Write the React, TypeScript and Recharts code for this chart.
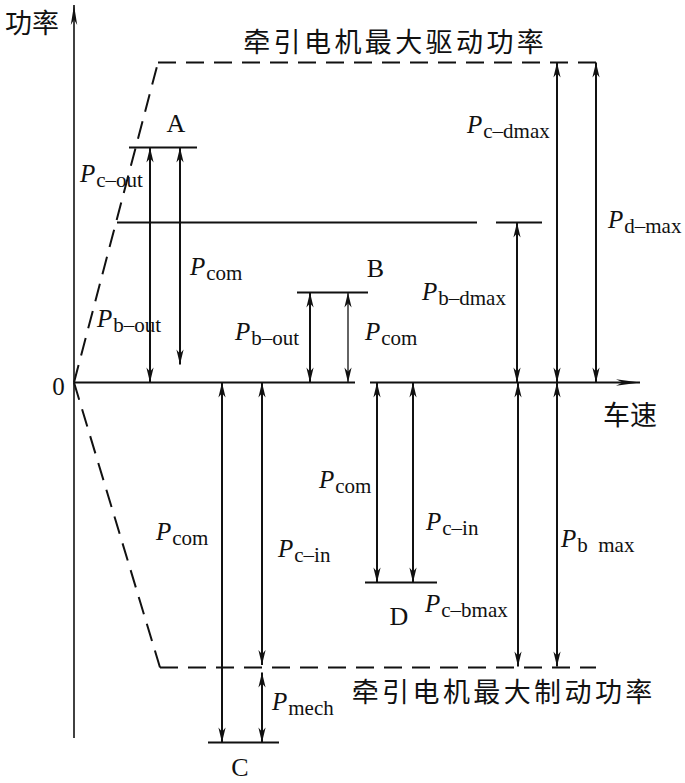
import React from 'react';
import { ComposedChart, XAxis, YAxis, ReferenceLine, ReferenceDot } from 'recharts';

// ---------- data (speed units on x, power units on y) ----------
const X_DOMAIN: [number, number] = [-14.8, 122.2];
const Y_DOMAIN: [number, number] = [-80.1, 76.5];

// axes
const speedAxisSegments = [
  { x1: 0, x2: 56.2 },
  { x1: 59.2, x2: 113.2 },
];
const powerAxis = { y1: -71.1, y2: 75.5 };

// motor envelopes (dashed)
const driveEnvelope = [
  { x: 0, y: 0 },
  { x: 16.8, y: 64 },
  { x: 104.4, y: 64 },
];
const brakeEnvelope = [
  { x: 0, y: 0 },
  { x: 17.2, y: -57 },
  { x: 104.4, y: -57 },
];

// battery max discharge power line (solid)
const batteryLevel = 32;
const batterySegments = [
  { x1: 8.6, x2: 80.6 },
  { x1: 84.4, x2: 93.6 },
];

// operating points A..D (short horizontal bars)
const pointNames = ['A', 'B', 'C', 'D'];
const pointLevels = [47, 18, -72, -40];
const pointStarts = [11, 44.6, 26.8, 58.2];
const pointEnds = [24.6, 58.8, 41, 72.6];
const pointLabelX = [20.4, 60.3, 33.2, 65];
const pointLabelY = [50.1, 21.1, -78.6, -48.5];

// double-headed dimension arrows
const arrowX = [15.2, 21.2, 47.2, 54.8, 88.6, 96.6, 104.4, 29.6, 37.6, 37.6, 60.6, 67.8, 88.8, 96.6];
const arrowFrom = [0, 3.6, 0, 0, 0, 0, 0, 0, 0, -58, 0, 0, 0, 0];
const arrowTo = [47, 47, 18, 18, 32, 64, 64, -72, -56.5, -72, -40, -40, -56.8, -56.8];
const arrowWidth = [2, 2, 2, 1.3, 2, 2, 2, 2, 2, 2, 2, 2, 2, 2];

// P labels
const powerSubs = [
  'c–out', 'b–out', 'com', 'c–dmax', 'd–max', 'b–dmax', 'b–out', 'com',
  'com', 'c–in', 'mech', 'com', 'c–in', 'c–bmax', 'b  max',
];
const powerLabelX = [1.2, 4.6, 23.2, 78.6, 106.8, 69.6, 32.2, 58.2, 16.4, 40.8, 39.6, 49, 70.4, 70.2, 97.4];
const powerLabelY = [40.1, 11.1, 21.5, 49.9, 30.9, 16.5, 8.5, 8.5, -31.5, -34.9, -65.5, -21.1, -29.5, -45.9, -32.9];

// Chinese texts
const cnTexts = ['功率', '车速', '牵引电机最大驱动功率', '牵引电机最大制动功率'];
const cnX = [-8.4, 111.2, 63.9, 85.6];
const cnY = [72.3, -6.2, 68.4, -61.5];
const cnSpacing = [0, 0, 3.4, 3.4];

const originLabel = { text: '0', x: -3.1, y: -2.5 };

// ---------- drawing helpers ----------
const INK = '#111';

function headPoints(tx: number, ty: number, ux: number, uy: number, len: number, half: number) {
  const bx = tx - ux * len;
  const by = ty - uy * len;
  const nx = -uy;
  const ny = ux;
  const mx = tx - ux * len * 0.72;
  const my = ty - uy * len * 0.72;
  return `${tx},${ty} ${bx + nx * half},${by + ny * half} ${mx},${my} ${bx - nx * half},${by - ny * half}`;
}

function arrowShape(start: boolean, end: boolean, sw: number, len = 15, half = 3.6) {
  return (p: any) => {
    const { x1, y1, x2, y2 } = p;
    const dx = x2 - x1;
    const dy = y2 - y1;
    const d = Math.hypot(dx, dy) || 1;
    const ux = dx / d;
    const uy = dy / d;
    return (
      <g>
        <line x1={x1} y1={y1} x2={x2} y2={y2} stroke={INK} strokeWidth={sw} />
        {end && <polygon points={headPoints(x2, y2, ux, uy, len, half)} fill={INK} />}
        {start && <polygon points={headPoints(x1, y1, -ux, -uy, len, half)} fill={INK} />}
      </g>
    );
  };
}

function powerLabelShape(sub: string) {
  return (p: any) => (
    <text x={p.cx} y={p.cy} fontFamily="'Liberation Serif', 'Times New Roman', serif" fill={INK} style={{ whiteSpace: 'pre' }}>
      <tspan fontStyle="italic" fontSize={25}>P</tspan>
      <tspan fontSize={21} dy={5} dx={1}>{sub}</tspan>
    </text>
  );
}

function serifCenterShape(t: string, size: number) {
  return (p: any) => (
    <text x={p.cx} y={p.cy} textAnchor="middle" fontFamily="'Liberation Serif', 'Times New Roman', serif" fontSize={size} fill={INK}>
      {t}
    </text>
  );
}

function cnShape(t: string, spacing: number) {
  return (p: any) => (
    <text
      x={p.cx + spacing / 2}
      y={p.cy}
      textAnchor="middle"
      dominantBaseline="central"
      fontFamily="'Noto Sans CJK SC', sans-serif"
      fontSize={27}
      letterSpacing={spacing}
      fill={INK}
    >
      {t}
    </text>
  );
}

function segs(points: { x: number; y: number }[]) {
  const out: { x: number; y: number }[][] = [];
  for (let i = 0; i < points.length - 1; i++) out.push([points[i], points[i + 1]]);
  return out;
}

export default function App() {
  return (
    <div style={{ position: 'absolute', left: 0, top: 0, width: 685, height: 783, background: '#fff' }}>
      <ComposedChart width={685} height={783} data={[]} margin={{ top: 0, right: 0, bottom: 0, left: 0 }}>
        <XAxis type="number" dataKey="x" domain={X_DOMAIN} hide allowDataOverflow />
        <YAxis type="number" dataKey="y" domain={Y_DOMAIN} hide allowDataOverflow />

        {/* power axis with arrow */}
        <ReferenceLine
          segment={[{ x: 0, y: powerAxis.y1 }, { x: 0, y: powerAxis.y2 }]}
          shape={arrowShape(false, true, 1.6, 20, 3.2)}
          ifOverflow="visible"
        />
        {/* speed axis */}
        {speedAxisSegments.map((s, i) => (
          <ReferenceLine
            key={'sa' + i}
            segment={[{ x: s.x1, y: 0 }, { x: s.x2, y: 0 }]}
            shape={arrowShape(false, i === speedAxisSegments.length - 1, 1.8, 24, 3.2)}
            ifOverflow="visible"
          />
        ))}

        {/* envelopes */}
        {[...segs(driveEnvelope), ...segs(brakeEnvelope)].map((s, i) => (
          <ReferenceLine
            key={'env' + i}
            segment={s}
            stroke={INK}
            strokeWidth={2}
            strokeDasharray="18 10"
            ifOverflow="visible"
          />
        ))}

        {/* battery line */}
        {batterySegments.map((s, i) => (
          <ReferenceLine
            key={'bat' + i}
            segment={[{ x: s.x1, y: batteryLevel }, { x: s.x2, y: batteryLevel }]}
            stroke={INK}
            strokeWidth={2}
            ifOverflow="visible"
          />
        ))}

        {/* operating point bars */}
        {pointNames.map((n, i) => (
          <ReferenceLine
            key={'pt' + n}
            segment={[{ x: pointStarts[i], y: pointLevels[i] }, { x: pointEnds[i], y: pointLevels[i] }]}
            stroke={INK}
            strokeWidth={2}
            ifOverflow="visible"
          />
        ))}

        {/* arrows */}
        {arrowX.map((x, i) => (
          <ReferenceLine
            key={'ar' + i}
            segment={[{ x, y: arrowFrom[i] }, { x, y: arrowTo[i] }]}
            shape={arrowShape(true, true, arrowWidth[i])}
            ifOverflow="visible"
          />
        ))}

        {/* point letters */}
        {pointNames.map((n, i) => (
          <ReferenceDot key={'pl' + n} x={pointLabelX[i]} y={pointLabelY[i]} r={0} ifOverflow="visible" shape={serifCenterShape(n, 26)} />
        ))}
        <ReferenceDot x={originLabel.x} y={originLabel.y} r={0} ifOverflow="visible" shape={serifCenterShape(originLabel.text, 25)} />

        {/* P labels */}
        {powerSubs.map((s, i) => (
          <ReferenceDot key={'pw' + i} x={powerLabelX[i]} y={powerLabelY[i]} r={0} ifOverflow="visible" shape={powerLabelShape(s)} />
        ))}

        {/* Chinese texts */}
        {cnTexts.map((t, i) => (
          <ReferenceDot key={'cn' + i} x={cnX[i]} y={cnY[i]} r={0} ifOverflow="visible" shape={cnShape(t, cnSpacing[i])} />
        ))}
      </ComposedChart>
    </div>
  );
}
